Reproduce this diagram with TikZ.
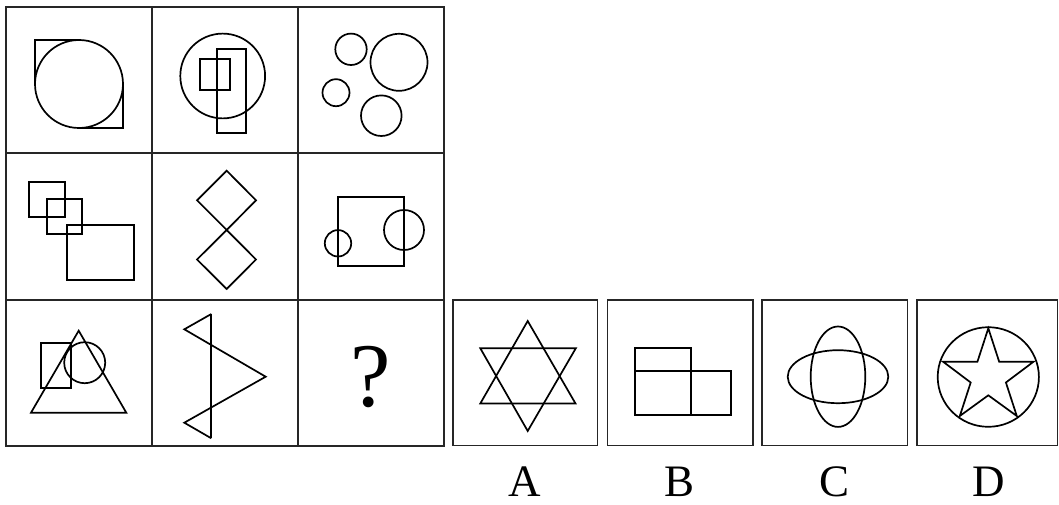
\documentclass[tikz,border=0pt]{standalone}
\usepackage{fontspec}
\setmainfont{Liberation Serif}
\begin{document}
\begin{tikzpicture}[x=1pt,y=-1pt,
  frame/.style={draw=black!85,line width=1.4pt},
  fig/.style={draw=black,line width=1.7pt,line join=miter},
  lbl/.style={anchor=base,inner sep=0pt,font=\fontsize{45}{45}\selectfont}]
\useasboundingbox (0,0) rectangle (1059,505);
% grid
\draw[frame] (6,7) rectangle (444,446);
\draw[frame] (152,7) -- (152,446) (298,7) -- (298,446) (6,153) -- (444,153) (6,300) -- (444,300);
% option boxes
\draw[frame] (453,300) rectangle (597.5,445.5);
\draw[frame] (607.5,300) rectangle (753,445.5);
\draw[frame] (762,300) rectangle (907.5,445.5);
\draw[frame] (917,300) rectangle (1057.5,445.5);
% cell 1
\draw[fig] (79,84) circle (44);
\draw[fig] (79,40) -- (35,40) -- (35,84);
\draw[fig] (79,128) -- (123,128) -- (123,84);
% cell 2
\draw[fig] (222.7,76) circle (42.4);
\draw[fig] (199.7,59.3) rectangle (229.7,89.7);
\draw[fig] (217,49.3) rectangle (246.3,133);
% cell 3
\draw[fig] (351,49.3) circle (15.7);
\draw[fig] (399,62.3) circle (28.5);
\draw[fig] (336,92.7) circle (13.5);
\draw[fig] (381.3,115.7) circle (20.3);
% cell 4
\draw[fig] (29.3,181.7) rectangle (64.7,216.7);
\draw[fig] (46.7,199) rectangle (82,234.3);
\draw[fig] (67,225) rectangle (133.7,279.7);
% cell 5
\draw[fig] (226.7,170.7) -- (256,200.3) -- (226.7,230) -- (197,200.3) -- cycle;
\draw[fig] (226.7,230) -- (256,259.5) -- (226.7,289) -- (197,259.5) -- cycle;
% cell 6
\draw[fig] (337.7,197.3) rectangle (404,266);
\draw[fig] (338,243.3) circle (13.2);
\draw[fig] (404,230) circle (20);
% cell 7
\draw[fig] (78.7,330.7) -- (126.3,412.7) -- (31,412.7) -- cycle;
\draw[fig] (40.7,342.7) rectangle (71.3,388.3);
\draw[fig] (84.7,362.7) circle (20.5);
% cell 8
\draw[fig] (211.3,314) -- (211.3,438.3);
\draw[fig] (211.3,314) -- (184.3,329.3) -- (265.7,376.7) -- (184.3,422.7) -- (211.3,438.3);
% cell 9
\node[anchor=base,inner sep=0pt,font=\fontsize{91}{91}\selectfont] (q) at (371,406.7) {?};
% option A
\draw[fig] (527.7,321) -- (575.5,403.5) -- (480.3,403.5) -- cycle;
\draw[fig] (480.3,348.3) -- (575.8,348.3) -- (527.7,431) -- cycle;
% option B
\draw[fig] (634.7,347.7) rectangle (690.7,371);
\draw[fig] (634.7,371) rectangle (690.7,415);
\draw[fig] (690.7,371) rectangle (731.3,415);
% option C
\draw[fig] (838,376.7) ellipse [x radius=27.3, y radius=50.2];
\draw[fig] (838,376.7) ellipse [x radius=50.3, y radius=26.5];
% option D
\draw[fig] (988.3,377) ellipse [x radius=50.6, y radius=49.8];
\draw[fig] (988.3,328.3) -- (999.2,361.8) -- (1033.4,361.8) -- (1005.9,382.5) -- (1016.8,416) -- (988.3,395.3) -- (959.8,416) -- (970.7,382.5) -- (943.2,361.8) -- (977.4,361.8) -- cycle;
% labels
\node[lbl] (la) at (525,496.5) {A};
\node[lbl] (lb) at (679.5,496.5) {B};
\node[lbl] (lc) at (834.5,496.5) {C};
\node[lbl] (ld) at (988.7,496.5) {D};
\end{tikzpicture}
\end{document}
